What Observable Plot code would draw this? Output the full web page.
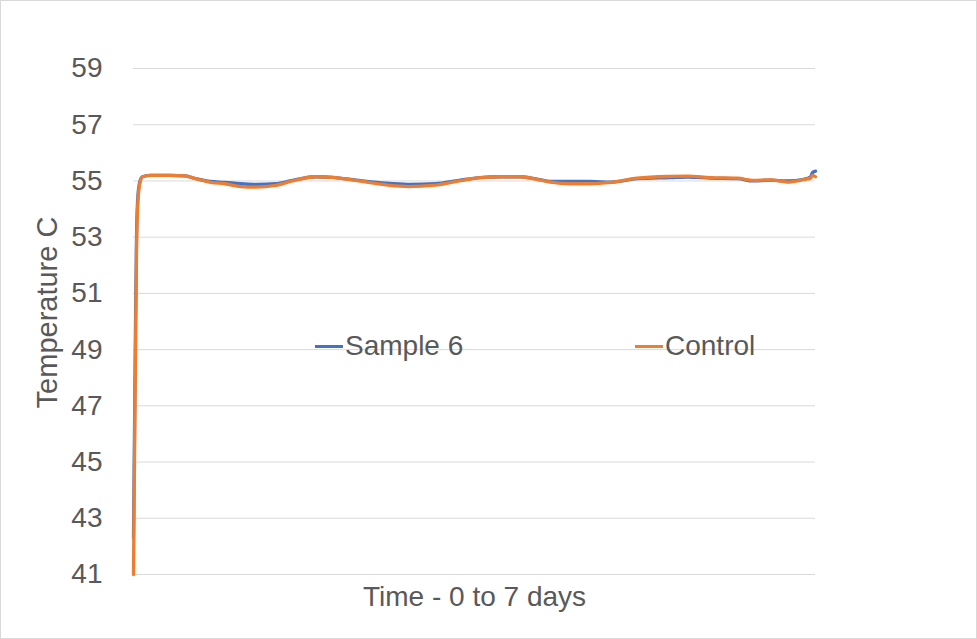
<!DOCTYPE html>
<html>
<head>
<meta charset="utf-8">
<script src="https://cdn.jsdelivr.net/npm/d3@7"></script>
<script src="https://cdn.jsdelivr.net/npm/@observablehq/plot@0.6"></script>
<style>
  html, body { margin: 0; padding: 0; background: #fff; }
  #wrap { position: relative; width: 977px; height: 639px; font-family: "Liberation Sans", Arial, sans-serif; }
  #border { position: absolute; left: 0; top: 0; width: 977px; height: 639px; box-sizing: border-box; border: 1px solid #d9d9d9; pointer-events: none; }
  .leg { position: absolute; top: 330px; display: flex; align-items: center; font-size: 28px; color: #595959; line-height: 32px; }
  .sw { width: 28px; height: 3px; margin-right: 2px; }
</style>
</head>
<body>
<div id="wrap"></div>
<script>
// Time in days (0 to 7)
const days = [0, 0.010, 0.021, 0.031, 0.046, 0.067, 0.092, 0.17, 0.38, 0.53, 0.64, 0.79, 0.94, 1.10, 1.25, 1.46, 1.63, 1.87, 2.04, 2.31, 2.59, 2.82, 3.10, 3.34, 3.56, 3.77, 3.97, 4.15, 4.28, 4.49, 4.69, 4.90, 5.17, 5.51, 5.69, 5.92, 6.20, 6.36, 6.54, 6.71, 6.88, 6.95, 6.97, 7.0];
const sample6 = [42.3, 46, 50, 53, 54.5, 55.0, 55.15, 55.2, 55.2, 55.18, 55.08, 54.98, 54.95, 54.9, 54.88, 54.9, 55.02, 55.15, 55.13, 55.02, 54.92, 54.88, 54.9, 55.02, 55.12, 55.15, 55.15, 55.06, 54.98, 54.98, 54.98, 54.96, 55.08, 55.12, 55.14, 55.1, 55.08, 55.0, 55.03, 55.0, 55.06, 55.15, 55.3, 55.35];
const control = [41.0, 45, 49, 52.5, 54.3, 54.95, 55.15, 55.2, 55.2, 55.18, 55.08, 54.95, 54.9, 54.8, 54.78, 54.84, 55.0, 55.15, 55.13, 55.0, 54.86, 54.8, 54.85, 55.0, 55.12, 55.15, 55.15, 55.05, 54.96, 54.9, 54.9, 54.95, 55.1, 55.16, 55.17, 55.12, 55.1, 55.02, 55.04, 54.96, 55.05, 55.1, 55.2, 55.15];
const yTicks = [41, 43, 45, 47, 49, 51, 53, 55, 57, 59];
const seriesNames = ["Sample 6", "Control"];
const seriesColors = ["#4472C4", "#ED7D31"];
const xLabel = "Time - 0 to 7 days";
const yLabel = "Temperature C";

const rows = [];
days.forEach((d, i) => rows.push({day: d, temp: sample6[i], series: seriesNames[0]}));
days.forEach((d, i) => rows.push({day: d, temp: control[i], series: seriesNames[1]}));

const chart = Plot.plot({
  width: 977,
  height: 639,
  marginLeft: 133,
  marginRight: 162,
  marginTop: 68,
  marginBottom: 65,
  style: {fontFamily: "'Liberation Sans', Arial, sans-serif", background: "transparent", color: "#595959"},
  x: {domain: [0, 7], axis: null},
  y: {domain: [41, 59], ticks: yTicks, label: null},
  color: {domain: seriesNames, range: seriesColors},
  marks: [
    Plot.gridY(yTicks, {stroke: "#d9d9d9", strokeOpacity: 1, strokeWidth: 1}),
    Plot.axisY(yTicks, {tickSize: 0, tickPadding: 31, fontSize: 28, fill: "#595959", label: null}),
    Plot.line(rows, {x: "day", y: "temp", z: "series", stroke: "series", strokeWidth: 3.3, curve: "monotone-x"}),
    Plot.text([xLabel], {frameAnchor: "bottom", dy: 22.5, fontSize: 28, fill: "#595959", lineAnchor: "middle"}),
    Plot.text([yLabel], {frameAnchor: "left", dx: -86, dy: -9, rotate: -90, textAnchor: "middle", fontSize: 29, fill: "#595959", lineAnchor: "middle"})
  ]
});

const wrap = document.getElementById("wrap");
wrap.appendChild(chart);
const legPos = [315, 635];
seriesNames.forEach((name, i) => {
  const item = document.createElement("div");
  item.className = "leg";
  item.style.left = legPos[i] + "px";
  const sw = document.createElement("div");
  sw.className = "sw";
  sw.style.background = seriesColors[i];
  const t = document.createElement("span");
  t.textContent = name;
  item.appendChild(sw);
  item.appendChild(t);
  wrap.appendChild(item);
});
const b = document.createElement("div");
b.id = "border";
wrap.appendChild(b);
</script>
</body>
</html>
